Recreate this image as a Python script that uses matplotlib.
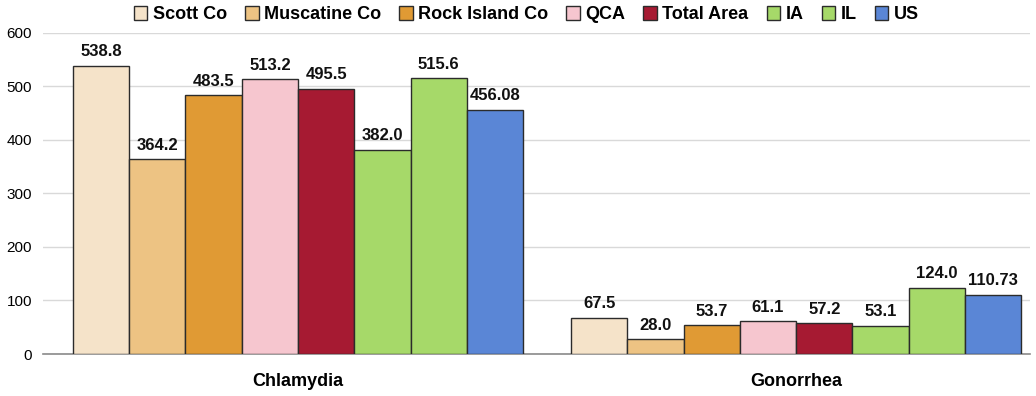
import matplotlib
matplotlib.use("Agg")
import matplotlib.pyplot as plt
import numpy as np

# ── dados ──────────────────────────────────────────────────────────────
categories = ["Chlamydia", "Gonorrhea"]
series = ["Scott Co", "Muscatine Co", "Rock Island Co", "QCA", "Total Area", "IA", "IL", "US"]
scott     = [538.8, 67.5]
muscatine = [364.2, 28.0]
rock      = [483.5, 53.7]
qca       = [513.2, 61.1]
total     = [495.5, 57.2]
ia        = [382.0, 53.1]
il        = [515.6, 124.0]
us        = [456.08, 110.73]
labels_fmt = ["{:.1f}"] * 7 + ["{:.2f}"]

values = [scott, muscatine, rock, qca, total, ia, il, us]
colors = ["#F5E3C9", "#EDC383", "#E09A34", "#F6C6CF", "#A61A32", "#A6D969", "#A6D969", "#5A86D6"]

plt.rcParams["font.family"] = ["Liberation Sans Narrow", "Liberation Sans", "DejaVu Sans"]

fig = plt.figure(figsize=(10.36, 3.96), dpi=100)
ax = fig.add_axes([0.0415, 0.106, 0.953, 0.811])

x = np.arange(len(categories))
w = 0.113
n = len(series)
for i, (name, vals, col, fmt) in enumerate(zip(series, values, colors, labels_fmt)):
    pos = x + (i - (n - 1) / 2) * w
    bars = ax.bar(pos, vals, w, color=col, edgecolor="#2b2b2b", linewidth=1.0,
                  label=name, zorder=3)
    for b, v in zip(bars, vals):
        ax.text(b.get_x() + b.get_width() / 2, v + 12, fmt.format(v),
                ha="center", va="bottom", fontsize=12, fontweight="bold", color="#111")

ax.set_xlim(-0.512, 1.47)
ax.set_ylim(0, 600)
ax.set_yticks(range(0, 601, 100))
ax.set_xticks(x)
ax.set_xticklabels(categories, fontsize=13, fontweight="bold")
ax.tick_params(axis="x", length=0, pad=14)
ax.tick_params(axis="y", length=0, labelsize=11, pad=8)
ax.yaxis.grid(True, color="#d9d9d9", linewidth=1.0, zorder=0)
for s in ["top", "right", "left"]:
    ax.spines[s].set_visible(False)
ax.spines["bottom"].set_color("#8a8a8a")
ax.spines["bottom"].set_linewidth(1.2)

fig.legend(loc="upper center", bbox_to_anchor=(0.508, 1.025), ncol=8, frameon=False,
           prop={"weight": "bold", "size": 13}, handlelength=0.75, handleheight=0.75,
           handletextpad=0.3, columnspacing=1.0)

fig.savefig("out.png", dpi=100)
